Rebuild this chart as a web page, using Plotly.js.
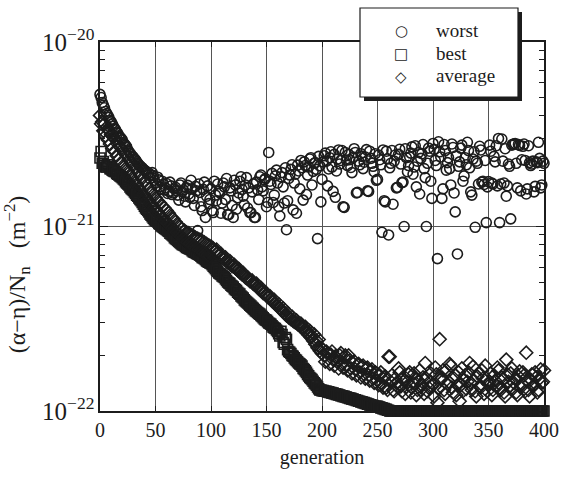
<!DOCTYPE html>
<html>
<head>
<meta charset="utf-8">
<script src="https://cdn.plot.ly/plotly-3.0.1.min.js"></script>
<style>html,body{margin:0;padding:0;background:#fff;}#chart{width:566px;height:479px;}</style>
</head>
<body>
<div id="chart"></div>
<script>
// generations: even values 0..400 and odd values 1..399
const EVEN_START = 0, ODD_START = 1, GEN_STEP = 2;

// values in units of 1e-22 m^-2
const worstEven = [
  52,47,44,41,39,37,35,33.5,32,30.5,
  29.5,28,27,25.5,24.5,23.8,23,22,21.3,20.8,
  20.2,19.7,19.5,19,18.9,17.2,18.5,16.4,17.6,15.8,
  17.1,15.5,16.6,15.2,16.3,14.8,16.8,15.4,14.6,16.2,
  15.0,17.8,14.2,16.5,9.5,15.3,12.2,17.4,14.6,13.3,
  16.0,11.9,14.8,17.0,15.2,13.4,16.4,18.2,11.6,15.6,
  11.2,16.8,14.3,17.6,15.9,13.1,18.4,16.2,11.9,17.0,
  11.2,15.8,18.6,16.4,17.9,12.8,25.2,16.9,13.5,18.8,
  17.2,11.4,19.6,13.4,9.6,18.2,20.4,12.3,19.2,21.5,
  16.0,20.8,22.4,14.9,21.0,23.6,19.9,22.2,8.6,21.3,
  18.0,24.2,22.6,20.5,25.4,15.5,14.4,23.2,21.8,25.8,
  12.7,22.9,24.6,20.9,23.8,25.2,15.3,21.6,24.0,22.3,
  26.1,15.5,23.4,21.2,24.8,18.0,23.0,9.3,13.8,25.6,
  9.0,22.0,13.2,24.4,16.3,26.2,17.3,10.0,23.6,21.4,
  25.0,19.2,27.4,22.6,15.0,24.8,20.6,10.0,26.6,17.6,
  28.2,22.8,6.7,25.4,14.2,27.8,20.2,23.6,16.8,26.8,
  12.0,7.1,22.4,27.6,18.8,21.6,25.8,15.4,23.2,9.9,
  22.0,27.2,17.4,16.9,10.5,17.5,25.6,17.0,22.4,16.6,
  10.5,29.8,17.2,14.6,21.8,11.0,27.9,28.2,16.2,27.5,
  23.0,28.0,15.0,27.4,21.4,22.6,16.5,22.2,23.4,16.8,
  22.0
];
const worstOdd = [
  50,45.5,42,40,37.5,36,34,32.5,31,30,
  28.5,27.5,26,25,24,23.2,22.5,21.6,21,20.4,
  20,19.2,18.2,19.6,17.8,16.6,17.9,15.9,17.0,16.2,
  15.1,17.4,14.9,16.0,15.6,13.9,17.2,15.8,13.6,16.7,
  14.4,16.0,13.0,15.6,17.0,12.8,15.9,11.2,16.6,14.0,
  12.2,17.6,13.8,15.5,11.8,17.2,14.0,11.6,16.2,13.0,
  17.8,12.4,15.2,18.6,14.6,16.8,12.6,11.9,15.4,11.2,
  17.4,14.0,19.0,15.6,18.2,13.5,17.6,19.4,14.8,20.2,
  12.8,18.6,16.4,20.8,13.8,19.0,21.6,17.2,11.8,20.0,
  22.8,13.9,21.4,19.0,23.2,16.8,22.0,20.4,24.0,13.6,
  22.4,25.0,16.6,23.6,21.0,24.6,20.0,26.0,22.8,12.8,
  25.2,21.4,23.0,19.6,26.4,15.2,22.6,24.8,20.6,23.8,
  15.6,25.6,22.0,19.8,17.8,24.4,21.6,26.0,13.6,23.2,
  20.8,25.8,22.6,16.2,24.6,21.8,17.4,26.4,19.8,23.8,
  27.0,21.0,16.4,25.2,23.4,27.8,18.4,22.0,25.6,14.2,
  26.2,21.4,28.8,23.8,16.0,25.8,22.2,20.6,28.0,15.2,
  24.2,21.2,26.6,17.6,23.6,28.6,20.8,14.8,25.4,22.6,
  17.0,26.0,17.6,22.8,16.4,27.6,17.2,24.0,27.4,30.0,
  17.0,22.6,26.4,16.6,21.2,27.6,28.0,22.0,27.8,15.6,
  27.2,22.8,16.0,22.2,21.8,15.4,22.4,28.6,16.2,22.6
];

const bestEven = [
  23.5,22,21.5,21,21.2,20.5,20,19.8,19.2,18.8,
  18.4,17.9,17.2,16.8,16.1,15.7,15.1,14.6,14.0,13.5,
  12.9,12.4,12.0,11.5,11.1,10.8,10.6,10.3,10.0,9.8,
  9.6,9.4,9.1,8.9,8.6,8.4,8.2,8.0,7.9,7.7,
  7.6,7.5,7.3,7.2,7.1,7.0,6.8,6.7,6.5,6.4,
  6.3,6.1,5.9,5.7,5.55,5.4,5.3,5.1,4.95,4.8,
  4.7,4.55,4.4,4.3,4.15,4.0,3.9,3.8,3.7,3.6,
  3.5,3.42,3.35,3.25,3.15,3.1,3.0,2.95,2.85,2.8,
  2.7,2.55,2.6,2.3,2.45,2.1,2.05,1.98,1.9,1.85,
  1.8,1.75,1.68,1.62,1.55,1.5,1.45,1.4,1.35,1.3,
  1.29,1.28,1.28,1.27,1.26,1.25,1.24,1.23,1.22,1.21,
  1.2,1.19,1.18,1.17,1.16,1.15,1.14,1.13,1.12,1.11,
  1.1,1.09,1.08,1.07,1.06,1.06,1.05,1.04,1.03,1.02,
  1.01,1,1,1,1,1,1,1,1,1,
  1,1,1,1,1,1,1,1,1,1,
  1,1,1,1,1,1,1,1,1,1,
  1,1,1,1,1,1,1,1,1,1,
  1,1,1,1,1,1,1,1,1,1,
  1,1,1,1,1,1,1,1,1,1,
  1,1,1,1,1,1,1,1,1,1,
  1
];
const bestOdd = [
  25.5,22.5,21,21.6,20.6,20.2,19.9,19.4,19.0,18.6,
  18.1,17.5,17.0,16.4,15.9,15.4,14.8,14.3,13.8,13.2,
  12.6,12.2,11.7,11.3,10.9,10.7,10.4,10.1,9.9,9.7,
  9.5,9.2,9.0,8.7,8.5,8.3,8.1,7.95,7.8,7.65,
  7.55,7.4,7.25,7.15,7.05,6.9,6.75,6.6,6.45,6.35,
  6.2,6.0,5.8,5.6,5.5,5.35,5.2,5.0,4.9,4.75,
  4.6,4.5,4.35,4.2,4.1,3.95,3.85,3.75,3.65,3.55,
  3.46,3.38,3.3,3.2,3.12,3.05,2.98,2.9,2.82,2.75,
  2.62,2.7,2.35,2.5,2.15,2.08,2.0,1.94,1.88,1.82,
  1.78,1.7,1.65,1.58,1.52,1.48,1.42,1.38,1.32,1.3,
  1.29,1.28,1.27,1.26,1.25,1.24,1.23,1.22,1.21,1.2,
  1.19,1.18,1.17,1.16,1.15,1.14,1.13,1.12,1.11,1.1,
  1.09,1.08,1.07,1.06,1.06,1.05,1.04,1.03,1.02,1.01,
  1,1,1,1,1,1,1,1,1,1,
  1,1,1,1,1,1,1,1,1,1,
  1,1,1,1,1,1,1,1,1,1,
  1,1,1,1,1,1,1,1,1,1,
  1,1,1,1,1,1,1,1,1,1,
  1,1,1,1,1,1,1,1,1,1,
  1,1,1,1,1,1,1,1,1,1
];

const averageEven = [
  40,37,36,34.5,33,31.5,30.5,29.5,28,27,
  26,25,24.2,23,22.3,21.5,20.6,19.8,19,18.2,
  17.5,16.8,16,15.5,14.9,14.3,13.8,13.4,12.9,12.6,
  12.2,11.8,11.3,11.0,10.6,10.2,9.9,9.7,9.5,9.3,
  9.2,9.0,8.9,8.7,8.6,8.5,8.35,8.2,8.05,7.9,
  7.8,7.6,7.4,7.2,7.0,6.8,6.65,6.5,6.35,6.2,
  6.1,5.95,5.8,5.65,5.5,5.4,5.25,5.15,5.05,4.9,
  4.8,4.7,4.55,4.45,4.35,4.25,4.15,4.05,3.9,3.8,
  3.7,3.6,3.5,3.4,3.3,3.22,3.15,3.08,3.02,2.96,
  2.9,2.82,2.74,2.66,2.58,2.5,2.4,2.3,2.2,2.12,
  2.05,2.0,2.1,1.92,2.02,1.9,1.98,1.84,2.0,1.8,
  1.95,1.76,2.0,1.7,1.82,1.68,1.78,1.62,1.74,1.58,
  1.7,1.56,1.64,1.5,1.62,1.46,1.56,1.4,1.52,1.34,
  1.97,1.44,1.3,1.5,1.36,1.62,1.28,1.46,1.35,1.58,
  1.26,1.42,1.52,1.3,1.66,1.38,1.24,1.5,1.34,1.6,
  1.4,1.72,1.11,2.45,1.52,1.3,1.66,1.44,1.76,1.26,
  1.56,1.38,1.13,1.7,1.48,1.32,1.62,1.42,1.74,1.28,
  1.54,1.36,1.66,1.24,1.5,1.4,1.6,1.3,1.46,1.72,
  1.34,1.52,1.26,1.9,1.44,1.6,1.32,1.5,1.22,1.64,
  1.4,1.56,2.07,1.3,1.48,1.36,1.62,1.26,1.5,1.42,
  1.66
];
const averageOdd = [
  36,33,31,29.5,28,26.5,25.5,24.2,23.2,22.2,
  21.4,20.6,19.8,19.0,18.3,17.6,16.9,16.2,15.6,15.0,
  14.5,14.0,13.5,13.0,12.6,12.2,11.8,11.4,11.0,10.7,
  10.4,10.1,9.8,9.5,9.3,9.0,8.8,8.6,8.4,8.2,
  8.1,7.9,7.8,7.6,7.5,7.35,7.2,7.1,7.0,6.9,
  7.6,7.3,7.5,7.0,7.1,6.7,6.8,6.4,6.5,6.1,
  6.2,5.9,5.9,5.6,5.6,5.3,5.3,5.05,5.1,4.85,
  4.9,4.6,4.65,4.35,4.4,4.15,4.2,3.95,4.0,3.75,
  3.8,3.55,3.6,3.35,3.4,3.2,3.25,3.05,3.1,2.95,
  2.98,2.85,2.86,2.7,2.72,2.55,2.6,2.4,2.44,2.2,
  2.15,1.85,2.05,1.8,2.1,1.76,1.94,1.7,2.06,1.72,
  2.0,1.66,1.88,1.6,1.86,1.56,1.8,1.52,1.76,1.5,
  1.72,1.46,1.68,1.42,1.6,1.38,1.62,1.34,1.54,1.3,
  1.97,1.56,1.28,1.42,1.7,1.36,1.5,1.24,1.44,1.62,
  1.34,1.6,1.22,1.46,1.3,1.52,1.82,1.28,1.44,1.36,
  1.2,1.58,1.32,1.48,1.66,1.24,1.4,1.8,1.34,1.5,
  1.22,1.62,1.38,1.28,1.56,1.44,1.82,1.3,1.46,1.2,
  1.6,1.34,1.5,1.76,1.28,1.44,1.22,1.56,1.38,1.66,
  1.3,1.48,1.2,1.58,1.36,1.7,1.42,1.26,1.54,1.34,
  1.62,1.28,1.46,1.2,1.58,1.38,1.52,1.3,1.68,1.44
];

const UNIT = 1e-22;
const seriesNames = ['worst', 'best', 'average'];
const legendGlyphs = ['\u25CB', '\u25A1', '\u25C7'];
const xTickVals = [0, 50, 100, 150, 200, 250, 300, 350, 400];

function gens(start, n) { const g = []; for (let i = 0; i < n; i++) g.push(start + i * GEN_STEP); return g; }

const ink = '#1c1c1c';
const serif = 'Liberation Serif, Times New Roman, serif';

function mk(name, even, odd, symbol) {
  const x = gens(EVEN_START, even.length).concat(gens(ODD_START, odd.length));
  const y = even.concat(odd).map(v => v * UNIT);
  return {
    type: 'scatter', mode: 'markers', name: name, x: x, y: y,
    cliponaxis: false, showlegend: false,
    marker: { symbol: symbol, size: 10, color: ink, line: { width: 1.6, color: ink } }
  };
}

const data = [
  mk(seriesNames[0], worstEven, worstOdd, 'circle-open'),
  mk(seriesNames[1], bestEven, bestOdd, 'square-open'),
  mk(seriesNames[2], averageEven, averageOdd, 'diamond-open')
];

// plot area in pixels (for placing the boxed legend)
const PL = 100, PR = 544, PT = 42, PB = 411;
const px = v => (v - PL) / (PR - PL);
const py = v => (PB - v) / (PB - PT);

const legendRows = [31, 54, 77];
const annotations = [];
seriesNames.forEach((name, i) => {
  annotations.push({ xref: 'paper', yref: 'paper', x: px(401), y: py(legendRows[i]), xanchor: 'center', yanchor: 'middle',
    text: legendGlyphs[i], showarrow: false, borderpad: 0, font: { family: 'DejaVu Sans', size: 15, color: ink } });
  annotations.push({ xref: 'paper', yref: 'paper', x: px(435), y: py(legendRows[i] - 1), xanchor: 'left', yanchor: 'middle',
    text: name, showarrow: false, borderpad: 0, font: { family: serif, size: 19, color: ink } });
});

const pad = '<span style="color:rgba(0,0,0,0)">' + '\u00a0'.repeat(2) + 'xxxxxxx</span>';

const layout = {
  width: 566, height: 479,
  margin: { l: PL, r: 566 - PR, t: PT, b: 479 - PB },
  paper_bgcolor: '#fff', plot_bgcolor: '#fff',
  font: { family: serif, size: 20, color: ink },
  showlegend: false,
  xaxis: {
    range: [0, 400], tickvals: xTickVals,
    showgrid: true, gridcolor: '#555', gridwidth: 1,
    zeroline: false, showline: true, linecolor: ink, linewidth: 1.6, mirror: 'ticks',
    ticks: 'inside', ticklen: 5, tickcolor: ink,
    tickfont: { family: serif, size: 20, color: ink },
    title: { text: 'generation', font: { family: serif, size: 20, color: ink }, standoff: 10 }
  },
  yaxis: {
    type: 'log', range: [-22, -20], dtick: 1, exponentformat: 'power',
    showgrid: true, gridcolor: '#555', gridwidth: 1,
    zeroline: false, showline: true, linecolor: ink, linewidth: 1.6, mirror: 'ticks',
    ticks: 'inside', ticklen: 8, tickcolor: ink,
    minor: { ticks: 'inside', ticklen: 5, tickcolor: ink, dtick: 'D1', showgrid: false },
    tickfont: { family: serif, size: 20, color: ink },
    title: { text: '(α−η)/N<sub>n</sub>\u00a0\u00a0\u00a0(m<sup>−2</sup>)' + pad, font: { family: serif, size: 24, color: ink }, standoff: 10 }
  },
  annotations: annotations,
  shapes: [
    { type: 'rect', xref: 'paper', yref: 'paper', layer: 'above',
      x0: px(364), x1: px(522), y0: py(101), y1: py(12),
      fillcolor: ink, line: { width: 0 } },
    { type: 'rect', xref: 'paper', yref: 'paper', layer: 'above',
      x0: px(360), x1: px(518), y0: py(97), y1: py(8),
      fillcolor: '#fff', line: { width: 1.2, color: ink } }
  ]
};

Plotly.newPlot('chart', data, layout, { displayModeBar: false, staticPlot: true });
</script>
</body>
</html>
